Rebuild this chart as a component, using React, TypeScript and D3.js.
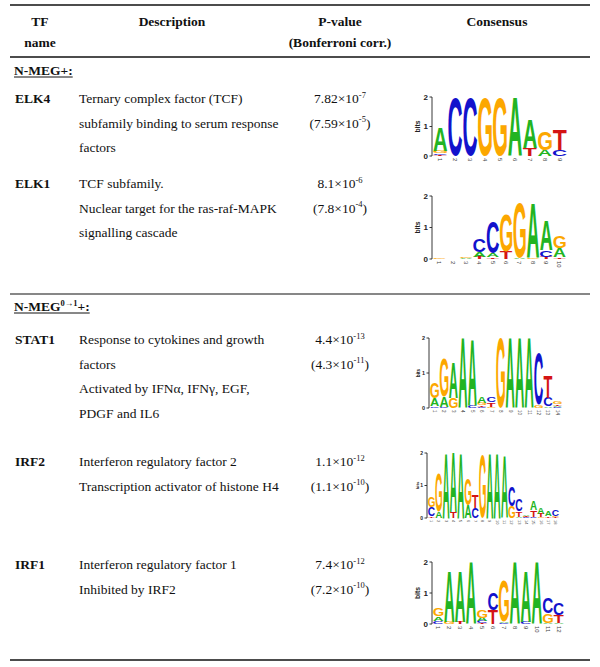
import React, { useLayoutEffect, useMemo, useRef, useState } from "react";
import * as d3 from "d3";

// ---------- table data ----------
const tfNames = ["ELK4", "ELK1", "STAT1", "IRF2", "IRF1"];
const descriptions: string[][] = [
  ["Ternary complex factor (TCF)", "subfamily binding to serum response", "factors"],
  ["TCF subfamily.", "Nuclear target for the ras-raf-MAPK", "signalling cascade"],
  ["Response to cytokines and growth", "factors", "Activated by IFNα, IFNγ, EGF,", "PDGF and IL6"],
  ["Interferon regulatory factor 2", "Transcription activator of histone H4"],
  ["Interferon regulatory factor 1", "Inhibited by IRF2"],
];
const pMantissa = ["7.82", "8.1", "4.4", "1.1", "7.4"];
const pExponent = ["-7", "-6", "-13", "-12", "-12"];
const corrMantissa = ["7.59", "7.8", "4.3", "1.1", "7.2"];
const corrExponent = ["-5", "-4", "-11", "-10", "-10"];
const groupMain = ["N-MEG", "N-MEG"];
const groupSup = ["", "0→1"];
const groupTail = ["+:", "+:"];
const headerCols = [["TF", "name"], ["Description"], ["P-value", "(Bonferroni corr.)"], ["Consensus"]];
const bitTicks = [0, 1, 2];

// ---------- logo data: per position, [letter, bits] ----------
type Col = [string, number][];
const elk4Logo: Col[] = [
  [["T", 0.04], ["C", 0.05], ["G", 0.07], ["A", 0.8]],
  [["C", 1.98]],
  [["C", 1.98]],
  [["G", 1.98]],
  [["G", 1.98]],
  [["A", 2.0]],
  [["T", 0.27], ["A", 0.97]],
  [["A", 0.2], ["G", 0.62]],
  [["C", 0.2], ["T", 0.68]],
];
const elk1Logo: Col[] = [
  [["G", 0.03]],
  [],
  [["A", 0.03], ["G", 0.03]],
  [["T", 0.07], ["A", 0.15], ["C", 0.41]],
  [["T", 0.05], ["A", 0.13], ["C", 1.0]],
  [["T", 0.24], ["G", 1.15]],
  [["A", 0.03], ["G", 1.75]],
  [["G", 0.03], ["A", 1.73]],
  [["T", 0.07], ["C", 0.22], ["A", 0.96]],
  [["T", 0.05], ["A", 0.3], ["G", 0.36]],
];
const stat1Logo: Col[] = [
  [["C", 0.05], ["A", 0.23], ["G", 0.43]],
  [["C", 0.03], ["A", 0.3], ["G", 1.09]],
  [["G", 0.28], ["A", 0.99]],
  [["A", 2.0]],
  [["C", 0.07], ["A", 1.9]],
  [["C", 0.04], ["T", 0.05], ["G", 0.06], ["A", 0.17]],
  [["G", 0.04], ["T", 0.12], ["C", 0.13]],
  [["G", 2.0]],
  [["A", 2.0]],
  [["A", 2.0]],
  [["A", 2.0]],
  [["G", 0.08], ["C", 1.48]],
  [["A", 0.05], ["C", 0.25], ["T", 0.64]],
  [["C", 0.03], ["A", 0.04], ["T", 0.04], ["G", 0.06]],
];
const irf2Logo: Col[] = [
  [["T", 0.05], ["C", 0.28], ["G", 0.33]],
  [["A", 0.2], ["G", 1.17]],
  [["A", 2.0]],
  [["T", 0.18], ["A", 1.82]],
  [["A", 2.0]],
  [["A", 0.38], ["G", 0.8]],
  [["C", 0.3], ["T", 0.38]],
  [["G", 1.93]],
  [["A", 2.0]],
  [["A", 2.0]],
  [["A", 1.92]],
  [["G", 0.36], ["C", 0.6]],
  [["A", 0.04], ["T", 0.16], ["C", 0.38]],
  [["C", 0.02], ["G", 0.02], ["T", 0.03], ["A", 0.03]],
  [["C", 0.04], ["T", 0.2], ["A", 0.26]],
  [["G", 0.03], ["T", 0.1], ["A", 0.2]],
  [["T", 0.05], ["A", 0.15]],
  [["T", 0.03], ["G", 0.04], ["C", 0.18]],
];
const irf1Logo: Col[] = [
  [["C", 0.1], ["A", 0.14], ["G", 0.27]],
  [["G", 0.06], ["A", 1.65]],
  [["T", 0.07], ["A", 1.64]],
  [["A", 2.0]],
  [["T", 0.04], ["C", 0.06], ["A", 0.1], ["G", 0.25]],
  [["T", 0.46], ["C", 0.53]],
  [["C", 0.04], ["A", 0.04], ["G", 1.33]],
  [["A", 2.0]],
  [["C", 0.06], ["A", 1.65]],
  [["A", 2.0]],
  [["A", 0.04], ["G", 0.3], ["C", 0.5]],
  [["A", 0.04], ["T", 0.26], ["C", 0.38]],
];
const logos = [elk4Logo, elk1Logo, stat1Logo, irf2Logo, irf1Logo];

// ---------- layout / style ----------
const SERIF = "'Liberation Serif', 'Times New Roman', serif";
const SANS = "'Liberation Sans', Arial, sans-serif";
const FS = 13.5;
const LINE = 24.7;
const rowBaselines = [103, 188, 344, 466, 569];
const groupBaselines = [75, 311];
const ruleYs = [5, 57, 294, 660];
const ruleWidths = [1.6, 1.6, 1.1, 1.6];
const colX = { tf: 15, desc: 79, pval: 340 };
const headerCenters = [40, 172, 340, 497];
const logoFrames = [
  { x0: 432, x1: 567, y0: 156, y2: 97, lab: 8, num: 6 },
  { x0: 432, x1: 566, y0: 259, y2: 196, lab: 8, num: 6 },
  { x0: 429, x1: 562, y0: 408, y2: 338, lab: 5.5, num: 4.5 },
  { x0: 427, x1: 559, y0: 518, y2: 453, lab: 5, num: 4 },
  { x0: 432, x1: 564, y0: 624, y2: 562, lab: 8, num: 6 },
];
const letterColors: Record<string, string> = { A: "#22b422", C: "#1212cc", G: "#fca700", T: "#d41414" };

type GM = { left: number; right: number; ascent: number; descent: number };
function measureGlyphs(): Record<string, GM> {
  const fallback: Record<string, GM> = {
    A: { left: 0, right: 72, ascent: 71.6, descent: 0 },
    C: { left: -4, right: 68, ascent: 73.5, descent: 1.5 },
    G: { left: -4, right: 73, ascent: 73.5, descent: 1.5 },
    T: { left: -2, right: 59, ascent: 71.6, descent: 0 },
  };
  try {
    const c = document.createElement("canvas");
    const ctx = c.getContext("2d");
    if (!ctx) return fallback;
    ctx.font = `bold 100px ${SANS}`;
    const out: Record<string, GM> = {};
    for (const L of ["A", "C", "G", "T"]) {
      const m = ctx.measureText(L);
      const g = {
        left: m.actualBoundingBoxLeft,
        right: m.actualBoundingBoxRight,
        ascent: m.actualBoundingBoxAscent,
        descent: m.actualBoundingBoxDescent,
      };
      out[L] = g.left + g.right > 1 && g.ascent + g.descent > 1 ? g : fallback[L];
    }
    return out;
  } catch {
    return fallback;
  }
}

function Logo({ data, frame, gm }: { data: Col[]; frame: typeof logoFrames[0]; gm: Record<string, GM> }) {
  const y = d3.scaleLinear().domain([0, 2]).range([frame.y0, frame.y2]);
  const x = d3
    .scaleBand<number>()
    .domain(d3.range(data.length))
    .range([frame.x0 + 1, frame.x1])
    .paddingInner(0.08)
    .paddingOuter(0.02);
  const letters: React.ReactNode[] = [];
  data.forEach((col, i) => {
    const sorted = [...col].sort((a, b) => a[1] - b[1]);
    let acc = 0;
    sorted.forEach(([L, h], j) => {
      const yBot = y(acc);
      const yTop = y(acc + h);
      acc += h;
      const hh = yBot - yTop;
      if (hh < 0.15) return;
      const m = gm[L];
      const gw = m.left + m.right;
      const gh = m.ascent + m.descent;
      const w = x.bandwidth();
      letters.push(
        <text
          key={`${i}-${j}`}
          transform={`translate(${x(i)},${yTop}) scale(${w / gw},${hh / gh})`}
          x={m.left}
          y={m.ascent}
          fontFamily={SANS}
          fontWeight="bold"
          fontSize={100}
          fill={letterColors[L]}
        >
          {L}
        </text>
      );
    });
  });
  return (
    <g>
      <line x1={frame.x0} x2={frame.x0} y1={frame.y0} y2={frame.y2} stroke="#222" strokeWidth={0.9} />
      {bitTicks.map((t) => (
        <g key={t}>
          <line x1={frame.x0 - 2.5} x2={frame.x0} y1={y(t)} y2={y(t)} stroke="#222" strokeWidth={0.9} />
          <text
            x={frame.x0 - 4}
            y={y(t)}
            dy="0.35em"
            textAnchor="end"
            fontFamily={SANS}
            fontWeight="bold"
            fontSize={frame.lab}
            fill="#222"
          >
            {t}
          </text>
        </g>
      ))}
      <text
        transform={`translate(${frame.x0 - frame.lab * 1.55},${(frame.y0 + frame.y2) / 2}) rotate(-90)`}
        textAnchor="middle"
        fontFamily={SANS}
        fontWeight="bold"
        fontSize={frame.lab * 0.85}
        fill="#222"
      >
        bits
      </text>
      {letters}
      {data.map((_, i) => (
        <text
          key={`n${i}`}
          transform={`translate(${(x(i) as number) + x.bandwidth() / 2},${frame.y0 + 2}) rotate(90)`}
          dy="0.35em"
          textAnchor="start"
          fontFamily={SANS}
          fontSize={frame.num}
          fill="#444"
        >
          {i + 1}
        </text>
      ))}
    </g>
  );
}

export default function App() {
  const gm = useMemo(() => measureGlyphs(), []);
  const labelRefs = useRef<(SVGTextElement | null)[]>([]);
  const [labelWidths, setLabelWidths] = useState<number[]>([52, 74]);
  useLayoutEffect(() => {
    const w = labelRefs.current.map((el) => (el ? el.getBBox().width : 0));
    setLabelWidths(w);
  }, []);

  return (
    <svg
      width={600}
      height={667}
      viewBox="0 0 600 667"
      style={{ position: "absolute", left: 0, top: 0, background: "#fff" }}
    >
      <rect width={600} height={667} fill="#fff" />
      {ruleYs.map((ry, i) => (
        <line key={i} x1={10} x2={590} y1={ry} y2={ry} stroke="#111" strokeWidth={ruleWidths[i]} />
      ))}
      {headerCols.map((lines, i) =>
        lines.map((t, j) => (
          <text
            key={`${i}-${j}`}
            x={headerCenters[i]}
            y={26 + j * 20.5}
            textAnchor="middle"
            fontFamily={SERIF}
            fontWeight="bold"
            fontSize={FS}
            fill="#111"
          >
            {t}
          </text>
        ))
      )}
      {groupMain.map((g, i) => (
        <g key={g + i}>
          <text
            ref={(el) => {
              labelRefs.current[i] = el;
            }}
            x={14}
            y={groupBaselines[i]}
            fontFamily={SERIF}
            fontWeight="bold"
            fontSize={FS}
            fill="#111"
          >
            {g}
            {groupSup[i] ? (
              <tspan dy={-5} fontSize={8.5}>
                {groupSup[i]}
              </tspan>
            ) : null}
            <tspan dy={groupSup[i] ? 5 : 0}>{groupTail[i]}</tspan>
          </text>
          <line
            x1={14}
            x2={14 + labelWidths[i]}
            y1={groupBaselines[i] + 2}
            y2={groupBaselines[i] + 2}
            stroke="#111"
            strokeWidth={1}
          />
        </g>
      ))}
      {tfNames.map((name, r) => (
        <g key={name}>
          <text x={colX.tf} y={rowBaselines[r]} fontFamily={SERIF} fontWeight="bold" fontSize={FS} fill="#111">
            {name}
          </text>
          {descriptions[r].map((d, k) => (
            <text key={k} x={colX.desc} y={rowBaselines[r] + k * LINE} fontFamily={SERIF} fontSize={FS} fill="#111">
              {d}
            </text>
          ))}
          <text x={colX.pval} y={rowBaselines[r]} textAnchor="middle" fontFamily={SERIF} fontSize={FS} fill="#111">
            {pMantissa[r]}×10
            <tspan dy={-5.5} fontSize={8.5}>
              {pExponent[r]}
            </tspan>
          </text>
          <text
            x={colX.pval}
            y={rowBaselines[r] + LINE}
            textAnchor="middle"
            fontFamily={SERIF}
            fontSize={FS}
            fill="#111"
          >
            ({corrMantissa[r]}×10
            <tspan dy={-5.5} fontSize={8.5}>
              {corrExponent[r]}
            </tspan>
            <tspan dy={5.5}>)</tspan>
          </text>
          <Logo data={logos[r]} frame={logoFrames[r]} gm={gm} />
        </g>
      ))}
    </svg>
  );
}
